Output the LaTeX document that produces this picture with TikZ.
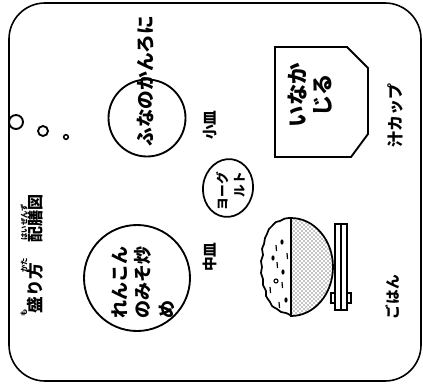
\documentclass[tikz,border=0pt]{standalone}
\usepackage{fontspec}
\newfontfamily\jp{Noto Sans CJK JP}
\usetikzlibrary{shapes.geometric,patterns}

\begin{document}
\begin{tikzpicture}[x=0.75pt, y=-0.75pt,
        frame/.style={draw, line width=1.2pt, rounded corners=27pt},
        hole/.style={draw, circle, fill=white, line width=1.4pt, inner sep=0pt},
        plate/.style={draw, circle, line width=1.4pt, inner sep=0pt},
        cupbox/.style={draw, line width=1.4pt, line join=miter},
        food/.style={rotate=90, inner sep=0pt, font=\jp\bfseries\fontsize{14}{18}\selectfont},
        tag/.style={rotate=90, inner sep=0pt, font=\jp\bfseries\fontsize{11}{13}\selectfont},
        ruby/.style={rotate=90, inner sep=0pt, font=\jp\bfseries\fontsize{5.5}{6}\selectfont}
    ]
    \useasboundingbox (0,0) rectangle (423,385);

    % tray and binder holes
    \draw[frame] (9,3) rectangle (421,381);
    \node[hole, minimum size=10.5pt] (bighole) at (16,122) {};
    \node[hole, minimum size=7.5pt] (midhole) at (43,131) {};
    \node[hole, minimum size=3.5pt, line width=1.1pt] (tinyhole) at (66,137) {};

    % heading with readings
    \node[tag, font=\jp\bfseries\fontsize{12.5}{14}\selectfont] (moru) at (35,288) {盛り方};
    \node[ruby] (moruruby) at (24,313) {も};
    \node[ruby] (kataruby) at (24,265) {かた};
    \node[tag, font=\jp\bfseries\fontsize{12}{14}\selectfont] (haizen) at (35,218) {配膳図};
    \node[ruby] (haizenruby) at (24,222) {はいぜんず};

    % plates
    \node[plate, minimum size=79.5pt] (midplate) at (137,278) {};
    \node[plate, minimum size=57.75pt] (smallplate) at (147,118) {};
    \node[ellipse, draw, line width=1.3pt, inner sep=0pt,
          minimum width=37.5pt, minimum height=43.5pt, rotate=-8] (yogcup) at (228,188) {};

    \node[food, align=left, font=\jp\bfseries\fontsize{13.5}{17.5}\selectfont] (renkon) at (143,282)
        {れんこん\\のみそ炒\\め};
    \node[food] (funa) at (146,81) {ふなのかんろに};
    \node[food, align=right, font=\jp\bfseries\fontsize{9.5}{13}\selectfont] (yog) at (231,191) {ヨーグ\\ルト};

    \node[tag] (chuzara) at (210,257) {中皿};
    \node[tag] (kozara) at (210,125) {小皿};

    % soup cup
    \draw[cupbox] (275,47) -- (347,47) -- (368,68) -- (368,134) -- (351,157) -- (275,157) -- cycle;
    \node[food, align=center, font=\jp\bfseries\fontsize{16}{19}\selectfont] (inaka) at (310,95) {いなか\\じる};
    \node[tag, font=\jp\bfseries\fontsize{12}{14}\selectfont] (shiru) at (395,115) {汁カップ};

    % rice bowl
    \fill[pattern=crosshatch dots, pattern color=black]
        (291,218) arc[start angle=-90, end angle=90, x radius=42, y radius=49] -- cycle;
    \draw[line width=1.3pt]
        (291,218) arc[start angle=-90, end angle=90, x radius=42, y radius=49] -- cycle;
    \draw[line width=1.3pt, line join=round]
        plot[smooth, tension=0.6] coordinates {(291,218) (285,218.5) (280,221) (276,222) (272,226)
            (269,229) (267,234) (265,238) (264,244) (262,249) (263,255) (261,261) (262,267)
            (261,273) (263,279) (263,285) (266,291) (266,296) (270,302) (272,306) (277,309)
            (281,312) (286,313) (292,316)};
    \foreach \gx/\gy in {282/242, 283/272, 273/258, 286/300}
        \fill (\gx,\gy) ellipse (1.6 and 2.6);
    \foreach \gx/\gy in {276/248, 277/265, 282/285, 270/290, 287/256, 279/305}
        \draw[line width=0.9pt] (\gx,\gy-3) -- (\gx+0.5,\gy+3);
    \draw[line width=0.8pt] (276,281) circle (2);
    \node[tag] (gohan) at (393,297) {ごはん};

    % chopsticks on their rest
    \draw[line width=1pt, fill=white] (331,293) rectangle (351,303);
    \draw[line width=1.2pt, fill=white] (335,224) rectangle (347,310);
    \draw[line width=0.9pt] (341,224) -- (341,310);
\end{tikzpicture}
\end{document}
